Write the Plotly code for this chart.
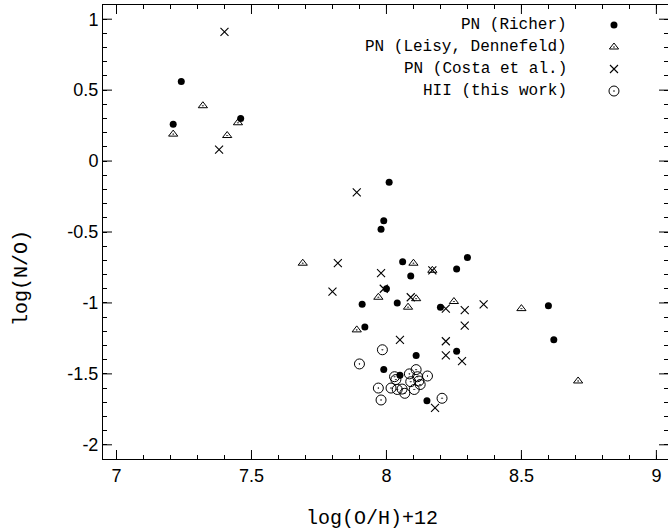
import plotly.graph_objects as go

# ---- data ----
richer_x = [7.24, 7.46, 7.21, 8.01, 7.99, 7.98, 8.06, 8.30, 8.26, 8.09, 8.00, 7.91,
            8.04, 8.20, 8.60, 8.62, 7.92, 8.26, 8.11, 7.99, 8.05, 8.15]
richer_y = [0.56, 0.30, 0.26, -0.15, -0.42, -0.48, -0.71, -0.68, -0.76, -0.81, -0.90, -1.01,
            -1.00, -1.03, -1.02, -1.26, -1.17, -1.34, -1.37, -1.47, -1.51, -1.69]

leisy_x = [7.21, 7.32, 7.41, 7.45, 7.69, 8.10, 8.17, 7.97, 8.11, 8.08, 8.25, 8.50, 7.89, 8.71]
leisy_y = [0.19, 0.39, 0.18, 0.27, -0.72, -0.72, -0.77, -0.96, -0.97, -1.03, -0.99, -1.04, -1.19, -1.55]

costa_x = [7.40, 7.38, 7.89, 7.82, 7.98, 8.17, 7.80, 7.99, 8.09, 8.22, 8.29, 8.36,
           8.29, 8.05, 8.22, 8.22, 8.28, 8.18]
costa_y = [0.91, 0.08, -0.22, -0.72, -0.79, -0.77, -0.92, -0.90, -0.96, -1.04, -1.05, -1.01,
           -1.16, -1.26, -1.27, -1.37, -1.41, -1.74]

hii_x = [7.985, 7.90, 8.11, 8.085, 8.115, 8.152, 8.03, 8.12, 8.09, 8.035, 7.97, 8.017,
         8.04, 8.058, 8.068, 8.103, 7.98, 8.206, 8.125]
hii_y = [-1.33, -1.43, -1.47, -1.50, -1.52, -1.515, -1.52, -1.55, -1.555, -1.54, -1.60, -1.60,
         -1.61, -1.607, -1.637, -1.61, -1.684, -1.672, -1.575]

series_names = ["PN (Richer)", "PN (Leisy, Dennefeld)", "PN (Costa et al.)", "HII (this work)"]

x_tickvals = [7, 7.5, 8, 8.5, 9]
x_ticktext = ["7", "7.5", "8", "8.5", "9"]
y_tickvals = [1, 0.5, 0, -0.5, -1, -1.5, -2]
y_ticktext = ["1", "0.5", "0", "-0.5", "-1", "-1.5", "-2"]

# ---- layout constants ----
x_range = [6.95, 9.043]
y_range = [-2.1, 1.1]
MAJOR_LEN = 9
MINOR_LEN = 4

# all small ticks every 0.1; labels only at the major values
x_all = [round(7 + 0.1 * i, 1) for i in range(21)]
y_all = [round(-2 + 0.1 * i, 1) for i in range(31)]
x_lab = dict(zip([round(v, 1) for v in x_tickvals], x_ticktext))
y_lab = dict(zip([round(v, 1) for v in y_tickvals], y_ticktext))
x_all_text = [x_lab.get(v, "") for v in x_all]
y_all_text = [y_lab.get(v, "") for v in y_all]

# ---- styles ----
styles = [
    dict(symbol="circle", size=7, color="black", line=dict(width=0, color="black")),
    dict(symbol="triangle-up-open-dot", size=8, color="black", line=dict(width=1, color="black")),
    dict(symbol="x-thin", size=8, color="black", line=dict(width=1.1, color="black")),
    dict(symbol="circle-open-dot", size=10, color="black", line=dict(width=1, color="black")),
]

fig = go.Figure()
for (xs, ys), name, st in zip([(richer_x, richer_y), (leisy_x, leisy_y),
                               (costa_x, costa_y), (hii_x, hii_y)], series_names, styles):
    fig.add_trace(go.Scatter(x=xs, y=ys, mode="markers", name=name, marker=st,
                             showlegend=False, cliponaxis=False))

# legend (gnuplot style: right-aligned label, key symbol to its right)
ky0 = 0.956
kstep = 0.0485
kx = 0.9044
ktext_x = 0.8248


def paper_to_x(p):
    return x_range[0] + p * (x_range[1] - x_range[0])


def paper_to_y(p):
    return y_range[0] + p * (y_range[1] - y_range[0])


for i, (name, st) in enumerate(zip(series_names, styles)):
    py = ky0 - i * kstep
    fig.add_trace(go.Scatter(x=[paper_to_x(kx)], y=[paper_to_y(py)], mode="markers", marker=st,
                             showlegend=False, hoverinfo="skip"))
    fig.add_annotation(x=ktext_x, y=py, xref="paper", yref="paper", text=name,
                       showarrow=False, xanchor="right", yanchor="middle",
                       font=dict(family="Liberation Mono, Courier New, monospace", size=16, color="black"))

# long major ticks on all four sides (pixel-sized shapes anchored to the frame)
tick_line = dict(color="black", width=1)
for v in x_tickvals:
    fig.add_shape(type="line", xref="x", yref="paper", x0=v, x1=v,
                  ysizemode="pixel", yanchor=0, y0=0, y1=MAJOR_LEN, line=tick_line, layer="above")
    fig.add_shape(type="line", xref="x", yref="paper", x0=v, x1=v,
                  ysizemode="pixel", yanchor=1, y0=0, y1=-MAJOR_LEN, line=tick_line, layer="above")
for v in y_tickvals:
    fig.add_shape(type="line", xref="paper", yref="y", y0=v, y1=v,
                  xsizemode="pixel", xanchor=0, x0=0, x1=MAJOR_LEN, line=tick_line, layer="above")
    fig.add_shape(type="line", xref="paper", yref="y", y0=v, y1=v,
                  xsizemode="pixel", xanchor=1, x0=0, x1=-MAJOR_LEN, line=tick_line, layer="above")

tickfont = dict(family="Liberation Sans, Arial, sans-serif", size=18, color="black")
axis_common = dict(
    showgrid=False, zeroline=False, showline=True, linecolor="black", linewidth=1,
    mirror="ticks", ticks="inside", ticklen=MINOR_LEN, tickwidth=1, tickcolor="black",
    tickfont=tickfont,
)

fig.update_layout(
    width=668, height=529,
    margin=dict(l=103, r=0, t=5, b=70),
    paper_bgcolor="white", plot_bgcolor="white",
    xaxis=dict(range=x_range, tickmode="array", tickvals=x_all, ticktext=x_all_text, **axis_common),
    yaxis=dict(range=y_range, tickmode="array", tickvals=y_all, ticktext=y_all_text, **axis_common),
    showlegend=False,
)

fig.add_annotation(x=0.476, y=-0.13, xref="paper", yref="paper", text="log(O/H)+12",
                   showarrow=False, xanchor="center", yanchor="middle",
                   font=dict(family="Liberation Mono, Courier New, monospace", size=20, color="black"))
fig.add_annotation(x=-0.1434, y=0.3987, xref="paper", yref="paper", text="log(N/O)",
                   showarrow=False, xanchor="center", yanchor="middle", textangle=-90,
                   font=dict(family="Liberation Mono, Courier New, monospace", size=20, color="black"))

fig.write_html("out.html", config={"displayModeBar": False},
               post_script="document.body.style.margin='0';document.body.style.overflow='hidden';")
